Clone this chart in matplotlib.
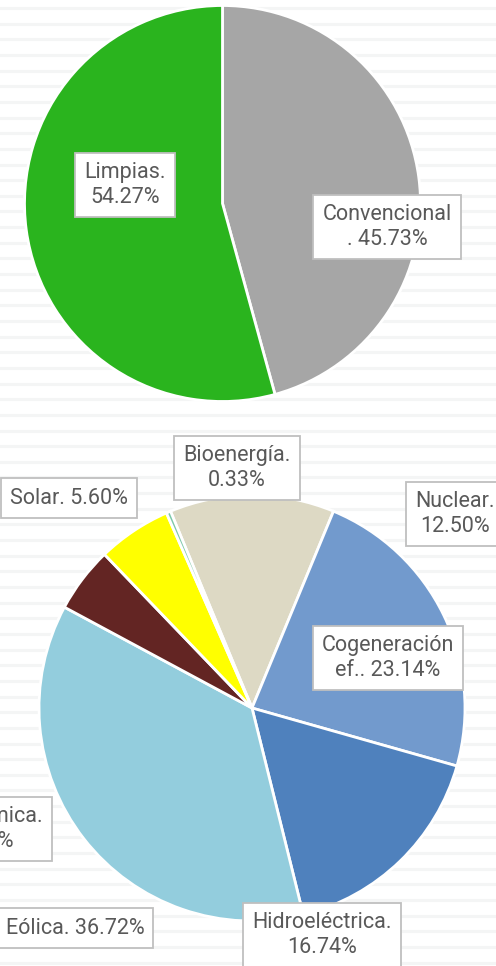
import matplotlib.pyplot as plt
import numpy as np

plt.rcParams['font.family'] = ['Roboto', 'DejaVu Sans']

# upper pie: share of generation
mix_names = ['Convencional', 'Limpias']
mix_values = [45.73, 54.27]
mix_colors = ['#A6A6A6', '#2AB41E']

# lower pie: split of clean energy
clean_names = ['Nuclear', 'Cogeneración ef.', 'Hidroeléctrica', 'Eólica',
               'Geotérmica', 'Solar', 'Bioenergía']
clean_values = [12.50, 23.14, 16.74, 36.72, 4.97, 5.60, 0.33]
clean_colors = ['#DDD9C4', '#729ACD', '#4F81BD', '#93CDDD',
                '#632523', '#FFFF00', '#7CC8A8']

W, H = 496, 966
TXT = '#595959'


def make_label(name, value, wrap):
    s = f"{name}. {value:.2f}%"
    if wrap == 'space':
        s = s.replace(' ', '\n', 1)
    elif wrap == 'dot':
        s = s.replace('. ', '\n. ', 1)
    return s


def px_axes(cx, cy, r):
    return fig.add_axes([(cx - r) / W, (H - cy - r) / H, 2 * r / W, 2 * r / H])


def boxed(x, y, s):
    fig.text(x / W, 1 - y / H, s, ha='center', va='center', fontsize=15.5,
             color=TXT, linespacing=1.2,
             bbox=dict(boxstyle='square,pad=0.42', fc='white', ec='#BFBFBF', lw=1.3))


fig = plt.figure(figsize=(W / 100, H / 100), dpi=100)

# striped background
bg = fig.add_axes([0, 0, 1, 1])
bg.set_xlim(0, W)
bg.set_ylim(H, 0)
bg.axis('off')
for y in np.arange(8, H, 15.65):
    bg.axhline(y, color='#F4F5F5', lw=2.2)

ax1 = px_axes(222.5, 203.5, 198)
ax1.pie(mix_values, colors=mix_colors, startangle=90, counterclock=False,
        wedgeprops=dict(edgecolor='white', linewidth=2))
ax1.set_xlim(-1, 1)
ax1.set_ylim(-1, 1)

ax2 = px_axes(252, 708, 213)
ax2.pie(clean_values, colors=clean_colors, startangle=112.5, counterclock=False,
        wedgeprops=dict(edgecolor='white', linewidth=2))
ax2.set_xlim(-1, 1)
ax2.set_ylim(-1, 1)

# label boxes (pixel centres, wrap style)
mix_pos = [(387, 227, 'dot'), (125, 185, 'space')]
clean_pos = [(455, 514, 'space'), (388, 658, 'space'), (322, 935, 'space'),
             (75, 928, None), (-15, 829, 'space'), (69, 498, None), (237, 468, 'space')]

for n, v, (x, y, w) in zip(mix_names, mix_values, mix_pos):
    boxed(x, y, make_label(n, v, w))
for n, v, (x, y, w) in zip(clean_names, clean_values, clean_pos):
    boxed(x, y, make_label(n, v, w))

fig.savefig('out.png', dpi=100)
